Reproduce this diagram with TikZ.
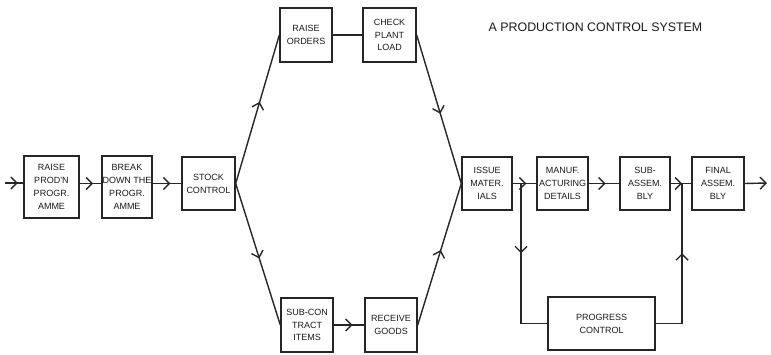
\documentclass[tikz,border=0pt]{standalone}
\usepackage{fontspec}
\setmainfont{Liberation Sans}
\usetikzlibrary{arrows.meta,decorations.markings}
\tikzset{
  barb/.tip={Straight Barb[length=6pt,width=12pt,line width=1.4pt]},
  blk/.style={draw=black!85,line width=1.4pt,align=center,inner sep=0pt,
    font=\fontsize{9}{12.8}\selectfont,text=black!90},
  conn/.style={draw=black!85,line width=1.4pt},
  midarr/.style={postaction={decorate},decoration={markings,
    mark=at position #1 with {\arrow{barb}}}},
}
\begin{document}
\begin{tikzpicture}[x=1pt,y=-1pt]
\useasboundingbox (0,0) rectangle (771,354);
% boxes
\node[blk,minimum width=55,minimum height=62] (raise) at (51.5,187) {RAISE\\PROD'N\\PROGR.\\AMME};
\node[blk,minimum width=50,minimum height=62] (break) at (127,187) {BREAK\\DOWN THE\\PROGR.\\AMME};
\node[blk,minimum width=53,minimum height=53] (stock) at (208.5,183.5) {STOCK\\CONTROL};
\node[blk,minimum width=52,minimum height=54] (orders) at (306,35) {RAISE\\ORDERS};
\node[blk,minimum width=53,minimum height=54] (check) at (389.5,35) {CHECK\\PLANT\\LOAD};
\node[blk,minimum width=52,minimum height=54] (subcon) at (307,325) {SUB-CON\\TRACT\\ITEMS};
\node[blk,minimum width=52,minimum height=54] (receive) at (391,325) {RECEIVE\\GOODS};
\node[blk,minimum width=50,minimum height=53] (issue) at (487,183.5) {ISSUE\\MATER.\\IALS};
\node[blk,minimum width=51,minimum height=53] (manuf) at (562.5,183.5) {MANUF.\\ACTURING\\DETAILS};
\node[blk,minimum width=50,minimum height=53] (subass) at (645,183.5) {SUB-\\ASSEM.\\BLY};
\node[blk,minimum width=52,minimum height=53] (final) at (718,183.5) {FINAL\\ASSEM.\\BLY};
\node[blk,minimum width=107,minimum height=53] (progress) at (601.5,323.5) {PROGRESS\\CONTROL};
\node[font=\fontsize{12.4}{14}\selectfont,text=black!90] (title) at (595.5,27) {A PRODUCTION CONTROL SYSTEM};
% free ends and junctions
\coordinate (in) at (5,183);
\coordinate (out) at (767,183);
\coordinate (j1) at (521,183);
\coordinate (j2) at (682,183);
% main flow
\draw[conn,midarr=0.7] (in) -- (in -| raise.west);
\draw[conn,midarr=0.62] (raise.east |- stock.west) -- (break.west |- stock.west);
\draw[conn,midarr=0.62] (break.east |- stock.west) -- (stock.west);
\draw[conn,midarr=0.55] (stock.east) -- (orders.west);
\draw[conn,midarr=0.53] (stock.east) -- (subcon.west);
\draw[conn] (orders.east) -- (check.west);
\draw[conn,midarr=0.62] (subcon.east) -- (receive.west);
\draw[conn,midarr=0.53] (check.east) -- (issue.west);
\draw[conn,midarr=0.53] (receive.east) -- (issue.west);
\draw[conn,midarr=0.58] (issue.east) -- (manuf.west);
\draw[conn,midarr=0.55] (manuf.east) -- (subass.west);
\draw[conn,midarr=0.55] (subass.east) -- (final.west);
\draw[conn,-barb] (final.east) -- (out);
% progress loop
\draw[conn,midarr=0.5] (j1) -- (j1 |- progress.west);
\draw[conn] (j1 |- progress.west) -- (progress.west);
\draw[conn] (progress.east) -- (j2 |- progress.east);
\draw[conn,midarr=0.5] (j2 |- progress.east) -- (j2);
\end{tikzpicture}
\end{document}
